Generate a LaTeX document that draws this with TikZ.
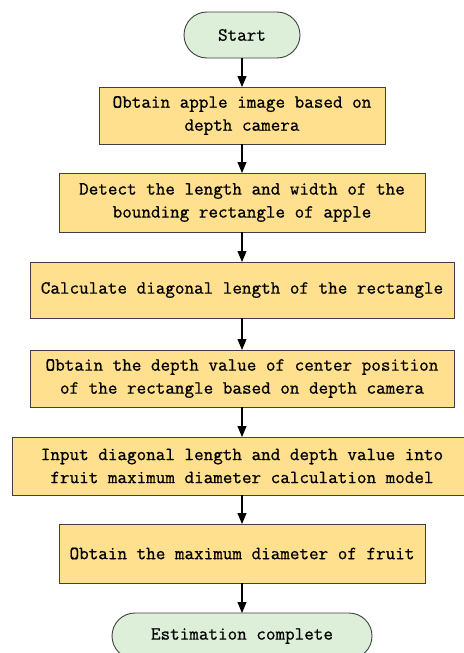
\documentclass[tikz,border=0pt]{standalone}
\usepackage{fontspec}
\newfontfamily\flowmono[FakeBold=0.8]{Latin Modern Mono}
\usetikzlibrary{arrows.meta}
\definecolor{boxfill}{HTML}{FFE08F}
\definecolor{termfill}{HTML}{DDEFD9}
\definecolor{edge}{HTML}{404040}
\tikzset{
  x=1pt,y=-1pt,
  txt/.style={font=\flowmono\fontsize{18.6}{23}\selectfont,align=center,inner sep=0pt},
  stepbox/.style={draw=edge,line width=0.9pt,fill=boxfill},
  term/.style={draw=edge,line width=0.9pt,fill=termfill,rounded corners=23pt},
  arr/.style={-{Triangle[length=11pt,width=9pt]},line width=1.1pt,black}
}
\newcommand{\boxat}[6]{% name, x1, y1, x2, y2, text
  \path[stepbox] (#2,#3) rectangle (#4,#5);
  \node[txt] (#1) at ({(#2+#4)/2},{(#3+#5)/2}) {#6};
  \coordinate (#1-n) at ({(#2+#4)/2},#3);
  \coordinate (#1-s) at ({(#2+#4)/2},#5);
}
\begin{document}
\begin{tikzpicture}
\useasboundingbox (0,0) rectangle (463,653);
\fill[white] (0,0) rectangle (463,653);
% start
\path[term] (184,12) rectangle (300,58);
\node[txt] (start) at (242,35) {Start};
\coordinate (start-s) at (242,58);
\boxat{b1}{99}{87}{385}{144}{Obtain apple image based on\\depth camera}
\boxat{b2}{59}{173}{425}{232}{Detect the length and width of the\\bounding rectangle of apple}
\boxat{b3}{30}{262}{454}{318}{Calculate diagonal length of the rectangle}
\boxat{b4}{30}{350}{454}{407}{Obtain the depth value of center position\\of the rectangle based on depth camera}
\boxat{b5}{12}{437}{472}{495}{Input diagonal length and depth value into\\fruit maximum diameter calculation model}
\boxat{b6}{59}{524}{425}{583}{Obtain the maximum diameter of fruit}
\path[term] (112,613) rectangle (372,659);
\node[txt] (end) at (242,636) {Estimation complete};
\coordinate (end-n) at (242,613);
% arrows
\draw[arr] (start-s) -- (b1-n);
\draw[arr] (b1-s) -- (b2-n);
\draw[arr] (b2-s) -- (b3-n);
\draw[arr] (b3-s) -- (b4-n);
\draw[arr] (b4-s) -- (b5-n);
\draw[arr] (b5-s) -- (b6-n);
\draw[arr] (b6-s) -- (end-n);
\end{tikzpicture}
\end{document}
